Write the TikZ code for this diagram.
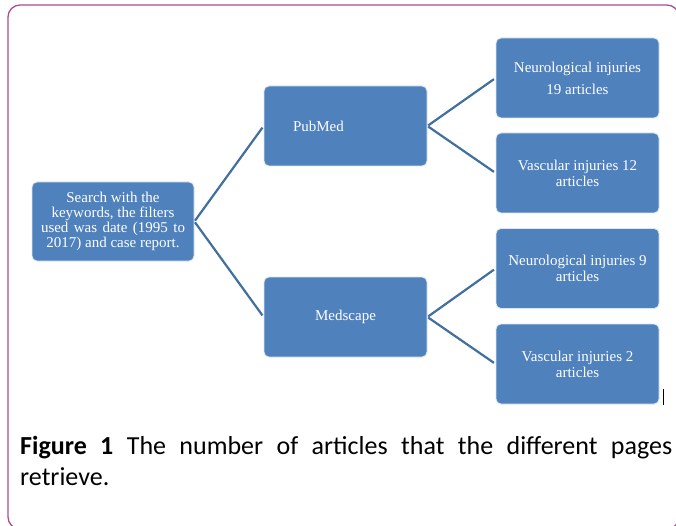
\documentclass[tikz,border=0pt]{standalone}
\usepackage{fontspec}
\setmainfont{Liberation Serif}
\newfontfamily\capfont{Carlito}
\definecolor{boxblue}{HTML}{4F81BD}
\definecolor{linkblue}{HTML}{41709F}
\definecolor{framepink}{HTML}{AE4F8C}
\begin{document}
\begin{tikzpicture}[x=1pt,y=-1pt,
  box/.style={rectangle, rounded corners=5pt, fill=boxblue, draw=white!80!boxblue,
    line width=0.8pt, text=white, inner sep=0pt, minimum width=163pt, minimum height=80pt,
    font=\fontsize{15}{16}\selectfont, align=center},
  link/.style={draw=linkblue, line width=2.2pt, shorten <=1pt, shorten >=2pt}]
\useasboundingbox (0,0) rectangle (676,526);
\clip (0,0) rectangle (676,526);
\draw[framepink, line width=1.3pt, rounded corners=12pt] (8,5) rectangle (679,529);

\node[box, minimum width=162pt, minimum height=79pt, font=\fontsize{15}{15}\selectfont] (search) at (113,221.5)
  {Search with the\\keywords, the filters\\\makebox[144pt][s]{used was date (1995 to}\\2017) and case report.};
\node[box, align=left, text width=105pt, inner xsep=29pt] (pubmed) at (345.5,126) {PubMed};
\node[box] (medscape) at (345.5,317) {Medscape};

\node[box, font=\fontsize{15}{22}\selectfont] (n19) at (577.5,78) {Neurological injuries\\19 articles};
\node[box] (v12) at (577.5,173) {Vascular injuries 12\\articles};
\node[box] (n9) at (577.5,268.5) {Neurological injuries 9\\articles};
\node[box] (v2) at (577.5,364) {Vascular injuries 2\\articles};

\draw[link] (search.east) -- (pubmed.west);
\draw[link] (search.east) -- (medscape.west);
\draw[link] (pubmed.east) -- (n19.west);
\draw[link] (pubmed.east) -- (v12.west);
\draw[link] (medscape.east) -- (n9.west);
\draw[link] (medscape.east) -- (v2.west);

\draw[black, line width=0.8pt] (663,389) -- (663,405);

\node[anchor=base west, inner sep=0pt] (caption) at (20,454)
  {\parbox[t]{652pt}{\capfont\fontsize{26}{31}\selectfont
   \makebox[652pt][s]{\textbf{Figure 1} The number of articles that the different pages}\\
   retrieve.}};
\end{tikzpicture}
\end{document}
